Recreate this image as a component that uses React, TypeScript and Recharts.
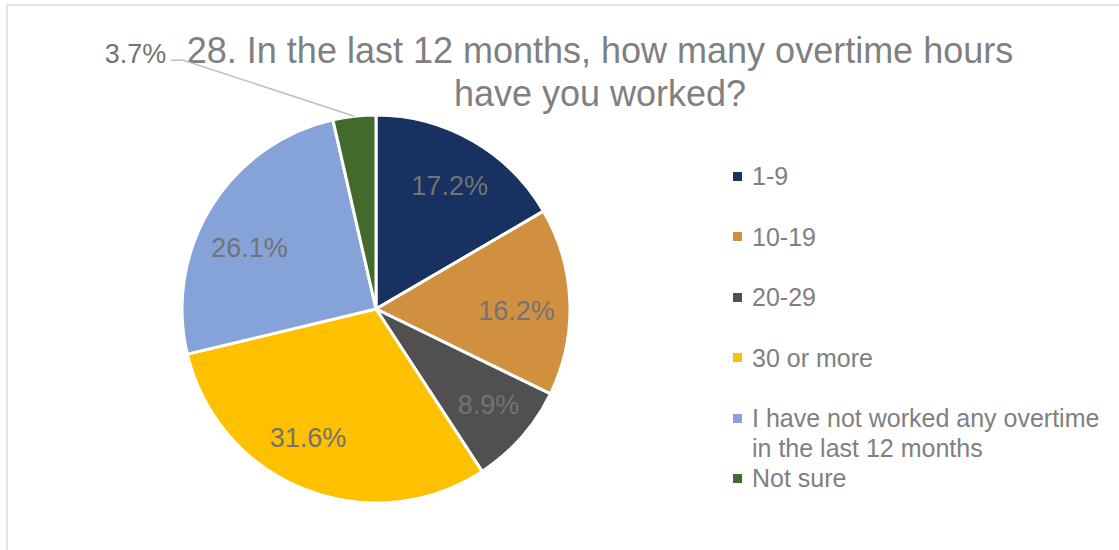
import { Legend, Pie, PieChart, Cell } from "recharts";

const categories = ["1-9", "10-19", "20-29", "30 or more", "I have not worked any overtime in the last 12 months", "Not sure"];
const shares = [17.2, 16.2, 8.9, 31.6, 26.1, 3.7];
const colors = ["#173160", "#D09040", "#505050", "#FFC000", "#85A2D9", "#446A2B"];

const data = categories.map((name, i) => ({ name, value: shares[i] }));

// small nudges so labels sit where Excel's "best fit" put them
const labelNudge = [
  { a: 1, r: 0.74 },
  { a: 3, r: 0.724 },
  { a: -1, r: 0.762 },
  { a: 6, r: 0.753 },
  { a: -6, r: 0.724 },
  { a: 0, r: 1 },
];

const RADIAN = Math.PI / 180;
const labelColor = "#737373";
const textColor = "#808080";

const renderLabel = (props: any) => {
  const { cx, cy, midAngle, outerRadius, value, index } = props;
  const text = `${Number(value).toFixed(1)}%`;
  const n = labelNudge[index];
  if (index === 5) {
    // outside label with leader line
    const px = cx + outerRadius * Math.cos(-midAngle * RADIAN);
    const py = cy + outerRadius * Math.sin(-midAngle * RADIAN);
    const ex = px - 171;
    const ey = py - 56;
    return (
      <g>
        <polyline points={`${px},${py} ${ex},${ey} ${ex - 12},${ey}`} fill="none" stroke="#bfbfbf" strokeWidth={1.5} />
        <text x={ex - 17} y={ey + 3} textAnchor="end" fill={labelColor} fontSize={27} fontFamily="Liberation Sans, Arial, sans-serif">
          {text}
        </text>
      </g>
    );
  }
  const ang = midAngle - n.a;
  const r = outerRadius * n.r;
  const x = cx + r * Math.cos(-ang * RADIAN);
  const y = cy + r * Math.sin(-ang * RADIAN);
  return (
    <text x={x} y={y} textAnchor="middle" dominantBaseline="central" fill={labelColor} fontSize={27} fontFamily="Liberation Sans, Arial, sans-serif">
      {text}
    </text>
  );
};

const renderLegend = () => (
  <div style={{ fontFamily: "Liberation Sans, Arial, sans-serif", fontSize: 25, color: textColor, lineHeight: "30px" }}>
    {categories.map((c, i) => (
      <div key={c} style={{ display: "flex", alignItems: "flex-start", marginBottom: i < 4 ? 30.5 : 0 }}>
        <div style={{ width: 9, height: 9, background: colors[i], marginTop: 10.5, marginRight: 10, flexShrink: 0 }} />
        <div style={{ maxWidth: 355 }}>{c}</div>
      </div>
    ))}
  </div>
);

export default function App() {
  return (
    <div style={{ position: "relative", width: 1119, height: 550, background: "#fff", overflow: "hidden" }}>
      <style>{`body{margin:0}`}</style>
      <div
        style={{
          position: "absolute",
          left: 6,
          top: 4,
          width: 1113,
          height: 546,
          borderTop: "2px solid #e3e3e3",
          borderLeft: "2px solid #e3e3e3",
          boxSizing: "border-box",
        }}
      />
      <div
        style={{
          position: "absolute",
          left: 100,
          top: 29,
          width: 1000,
          textAlign: "center",
          fontFamily: "Liberation Sans, Arial, sans-serif",
          fontSize: 36,
          lineHeight: "43px",
          color: textColor,
        }}
      >
        28. In the last 12 months, how many overtime hours
        <br />
        have you worked?
      </div>
      <PieChart width={1119} height={550} margin={{ top: 0, right: 0, bottom: 0, left: 0 }} style={{ position: "absolute", left: 0, top: 0 }}>
        <Pie
          data={data}
          dataKey="value"
          nameKey="name"
          cx={376}
          cy={309}
          outerRadius={194}
          startAngle={90}
          endAngle={-270}
          stroke="#ffffff"
          strokeWidth={3}
          label={renderLabel}
          labelLine={false}
          isAnimationActive={false}
        >
          {data.map((d, i) => (
            <Cell key={d.name} fill={colors[i]} />
          ))}
        </Pie>
        <Legend content={renderLegend} wrapperStyle={{ left: 733, top: 161, width: 380, bottom: "auto" }} />
      </PieChart>
    </div>
  );
}
